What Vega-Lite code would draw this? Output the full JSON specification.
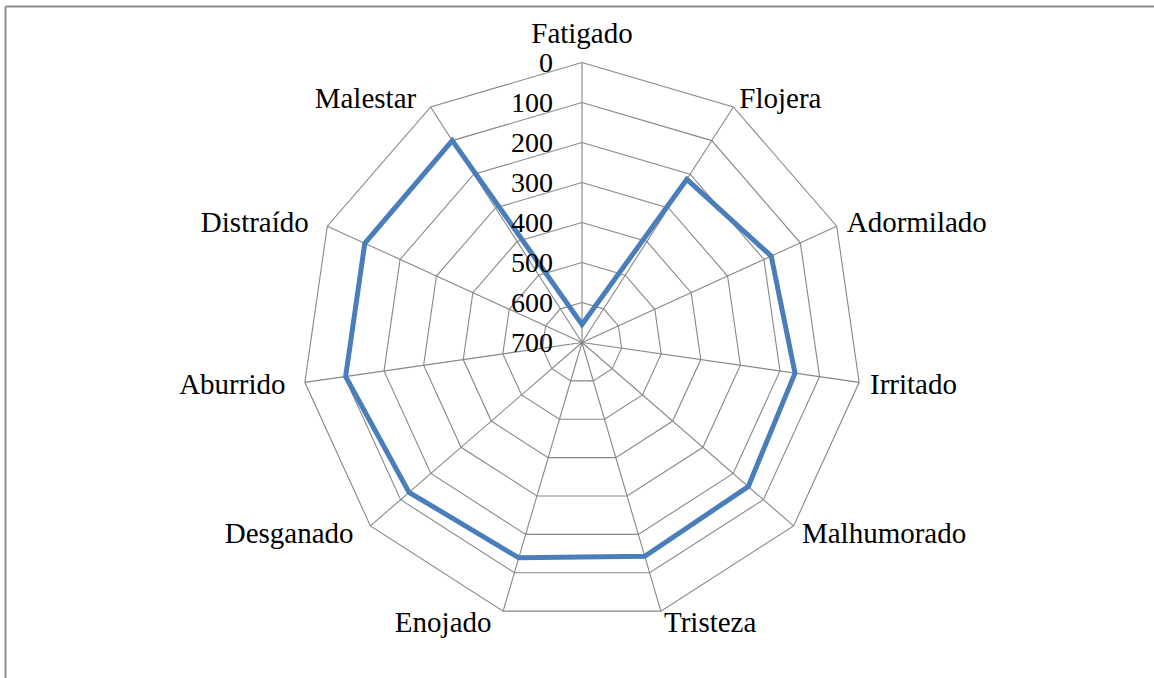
{
  "$schema": "https://vega.github.io/schema/vega-lite/v6.json",
  "width": 1149,
  "height": 672,
  "autosize": {"type": "none"},
  "padding": {"left": 5, "top": 6, "right": 0, "bottom": 0},
  "background": "white",
  "config": {"view": {"stroke": null}},
  "datasets": {
    "scores": [
      {"categoria": "Fatigado", "k": 0, "valor": 655},
      {"categoria": "Flojera", "k": 1, "valor": 215},
      {"categoria": "Adormilado", "k": 2, "valor": 180},
      {"categoria": "Irritado", "k": 3, "valor": 162},
      {"categoria": "Malhumorado", "k": 4, "valor": 150},
      {"categoria": "Tristeza", "k": 5, "valor": 143},
      {"categoria": "Enojado", "k": 6, "valor": 139},
      {"categoria": "Desganado", "k": 7, "valor": 128},
      {"categoria": "Aburrido", "k": 8, "valor": 103},
      {"categoria": "Distraído", "k": 9, "valor": 103},
      {"categoria": "Malestar", "k": 10, "valor": 100}
    ],
    "grid": [
      {"k": 0, "lv": [0, 100, 200, 300, 400, 500, 600]},
      {"k": 1, "lv": [0, 100, 200, 300, 400, 500, 600]},
      {"k": 2, "lv": [0, 100, 200, 300, 400, 500, 600]},
      {"k": 3, "lv": [0, 100, 200, 300, 400, 500, 600]},
      {"k": 4, "lv": [0, 100, 200, 300, 400, 500, 600]},
      {"k": 5, "lv": [0, 100, 200, 300, 400, 500, 600]},
      {"k": 6, "lv": [0, 100, 200, 300, 400, 500, 600]},
      {"k": 7, "lv": [0, 100, 200, 300, 400, 500, 600]},
      {"k": 8, "lv": [0, 100, 200, 300, 400, 500, 600]},
      {"k": 9, "lv": [0, 100, 200, 300, 400, 500, 600]},
      {"k": 10, "lv": [0, 100, 200, 300, 400, 500, 600]}
    ],
    "ticks": [
      {"lv": 0}, {"lv": 100}, {"lv": 200}, {"lv": 300},
      {"lv": 400}, {"lv": 500}, {"lv": 600}, {"lv": 700}
    ]
  },
  "encoding": {
    "x": {
      "field": "px", "type": "quantitative",
      "scale": {"domain": [-1442.5, 1430], "nice": false, "zero": false},
      "axis": {"orient": "top", "domain": true, "domainColor": "#8c8c8c", "domainWidth": 2, "labels": false, "ticks": false, "grid": false, "title": null}
    },
    "y": {
      "field": "py", "type": "quantitative",
      "scale": {"domain": [-838.75, 841.25], "nice": false, "zero": false},
      "axis": {"orient": "left", "domain": true, "domainColor": "#8c8c8c", "domainWidth": 2, "labels": false, "ticks": false, "grid": false, "title": null}
    }
  },
  "layer": [
    {
      "data": {"name": "grid"},
      "transform": [
        {"flatten": ["lv"]},
        {"calculate": "datum.k*2*PI/11", "as": "theta"},
        {"calculate": "(700-datum.lv)*sin(datum.theta)", "as": "px"},
        {"calculate": "(700-datum.lv)*cos(datum.theta)", "as": "py"}
      ],
      "mark": {"type": "line", "interpolate": "linear-closed", "stroke": "#878787", "strokeWidth": 1.1},
      "encoding": {
        "detail": {"field": "lv", "type": "nominal"},
        "order": {"field": "k", "type": "quantitative"}
      }
    },
    {
      "data": {"name": "scores"},
      "transform": [
        {"calculate": "datum.k*2*PI/11", "as": "theta"},
        {"calculate": "700*sin(datum.theta)", "as": "px"},
        {"calculate": "700*cos(datum.theta)", "as": "py"}
      ],
      "mark": {"type": "rule", "stroke": "#878787", "strokeWidth": 1.1},
      "encoding": {
        "x2": {"datum": 0},
        "y2": {"datum": 0}
      }
    },
    {
      "data": {"name": "scores"},
      "transform": [
        {"calculate": "datum.k*2*PI/11", "as": "theta"},
        {"calculate": "(700-datum.valor)*sin(datum.theta)", "as": "px"},
        {"calculate": "(700-datum.valor)*cos(datum.theta)", "as": "py"}
      ],
      "mark": {"type": "line", "interpolate": "linear-closed", "stroke": "#4a7ebb", "strokeWidth": 5, "strokeJoin": "miter"},
      "encoding": {
        "order": {"field": "k", "type": "quantitative"}
      }
    },
    {
      "data": {"name": "ticks"},
      "transform": [
        {"calculate": "0", "as": "px"},
        {"calculate": "700-datum.lv", "as": "py"}
      ],
      "mark": {"type": "text", "align": "right", "baseline": "alphabetic", "dx": -29, "dy": 9.5, "font": "Liberation Serif", "fontSize": 28, "color": "#000000"},
      "encoding": {
        "text": {"field": "lv", "type": "nominal"}
      }
    },
    {
      "data": {"name": "scores"},
      "transform": [
        {"filter": "datum.k == 0"},
        {"calculate": "0", "as": "px"},
        {"calculate": "700", "as": "py"}
      ],
      "mark": {"type": "text", "align": "center", "baseline": "alphabetic", "dy": -19.4, "font": "Liberation Serif", "fontSize": 29, "color": "#000000"},
      "encoding": {
        "text": {"field": "categoria", "type": "nominal"}
      }
    },
    {
      "data": {"name": "scores"},
      "transform": [
        {"filter": "datum.k >= 1 && datum.k <= 5"},
        {"calculate": "datum.k*2*PI/11", "as": "theta"},
        {"calculate": "727.5*sin(datum.theta)", "as": "px"},
        {"calculate": "727.5*cos(datum.theta)", "as": "py"}
      ],
      "mark": {"type": "text", "align": "left", "baseline": "alphabetic", "dy": 10, "font": "Liberation Serif", "fontSize": 29, "color": "#000000"},
      "encoding": {
        "text": {"field": "categoria", "type": "nominal"}
      }
    },
    {
      "data": {"name": "scores"},
      "transform": [
        {"filter": "datum.k >= 6"},
        {"calculate": "datum.k*2*PI/11", "as": "theta"},
        {"calculate": "727.5*sin(datum.theta)", "as": "px"},
        {"calculate": "727.5*cos(datum.theta)", "as": "py"}
      ],
      "mark": {"type": "text", "align": "right", "baseline": "alphabetic", "dx": -8.5, "dy": 10, "font": "Liberation Serif", "fontSize": 29, "color": "#000000"},
      "encoding": {
        "text": {"field": "categoria", "type": "nominal"}
      }
    }
  ]
}
